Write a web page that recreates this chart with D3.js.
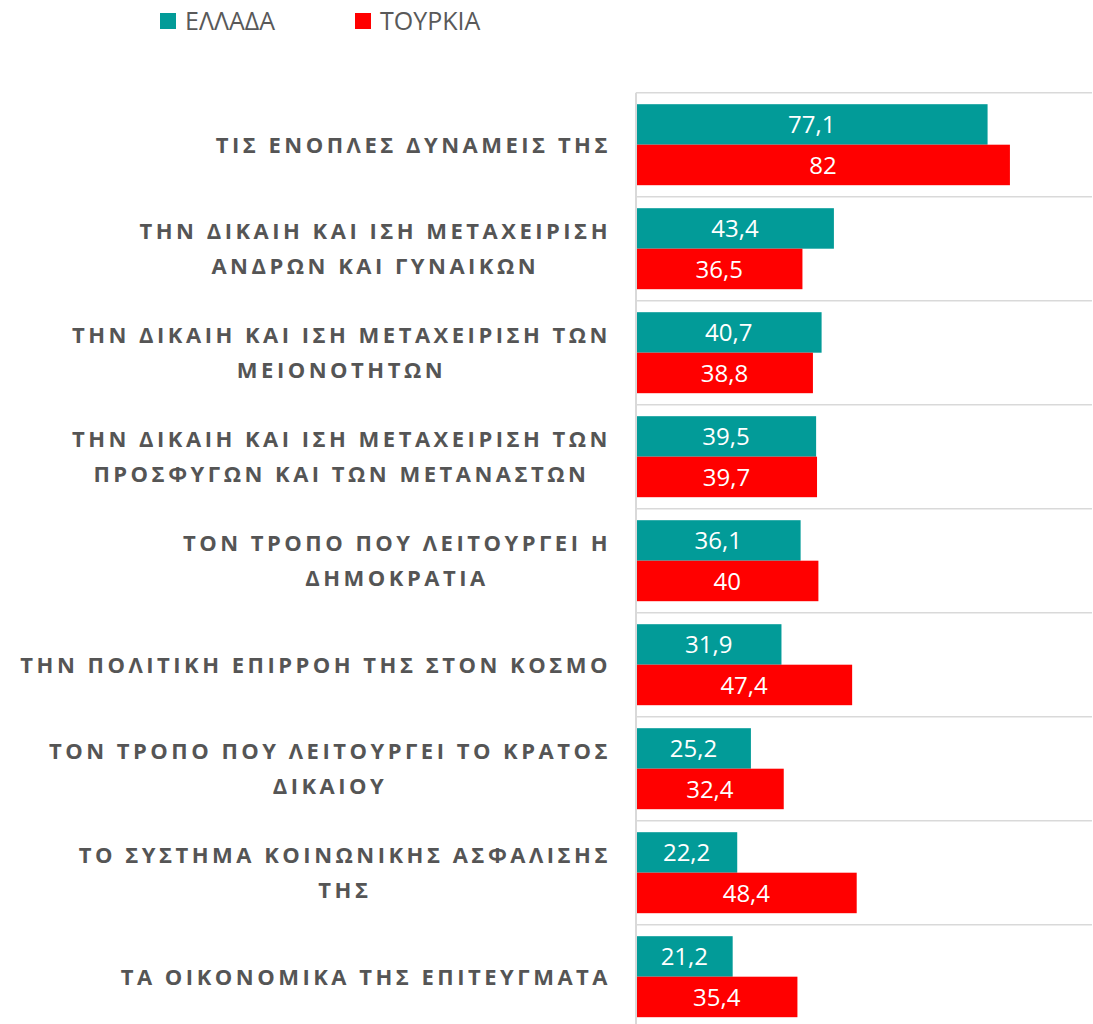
<!DOCTYPE html>
<html>
<head>
<meta charset="utf-8">
<script src="https://cdn.jsdelivr.net/npm/d3@7"></script>
<style>
  body { margin: 0; background: #fff; }
  text { font-family: "Open Sans", sans-serif; }
</style>
</head>
<body>
<div id="chart"></div>
<script>
const categories = [
  "ΤΙΣ ΕΝΟΠΛΕΣ ΔΥΝΑΜΕΙΣ ΤΗΣ",
  "ΤΗΝ ΔΙΚΑΙΗ ΚΑΙ ΙΣΗ ΜΕΤΑΧΕΙΡΙΣΗ\nΑΝΔΡΩΝ ΚΑΙ ΓΥΝΑΙΚΩΝ",
  "ΤΗΝ ΔΙΚΑΙΗ ΚΑΙ ΙΣΗ ΜΕΤΑΧΕΙΡΙΣΗ ΤΩΝ\nΜΕΙΟΝΟΤΗΤΩΝ",
  "ΤΗΝ ΔΙΚΑΙΗ ΚΑΙ ΙΣΗ ΜΕΤΑΧΕΙΡΙΣΗ ΤΩΝ\nΠΡΟΣΦΥΓΩΝ ΚΑΙ ΤΩΝ ΜΕΤΑΝΑΣΤΩΝ",
  "ΤΟΝ ΤΡΟΠΟ ΠΟΥ ΛΕΙΤΟΥΡΓΕΙ Η\nΔΗΜΟΚΡΑΤΙΑ",
  "ΤΗΝ ΠΟΛΙΤΙΚΗ ΕΠΙΡΡΟΗ ΤΗΣ ΣΤΟΝ ΚΟΣΜΟ",
  "ΤΟΝ ΤΡΟΠΟ ΠΟΥ ΛΕΙΤΟΥΡΓΕΙ ΤΟ ΚΡΑΤΟΣ\nΔΙΚΑΙΟΥ",
  "ΤΟ ΣΥΣΤΗΜΑ ΚΟΙΝΩΝΙΚΗΣ ΑΣΦΑΛΙΣΗΣ\nΤΗΣ",
  "ΤΑ ΟΙΚΟΝΟΜΙΚΑ ΤΗΣ ΕΠΙΤΕΥΓΜΑΤΑ"
];
const seriesNames = ["ΕΛΛΑΔΑ", "ΤΟΥΡΚΙΑ"];
const greece = [77.1, 43.4, 40.7, 39.5, 36.1, 31.9, 25.2, 22.2, 21.2];
const turkey = [82, 36.5, 38.8, 39.7, 40, 47.4, 32.4, 48.4, 35.4];
const colors = ["#029b98", "#ff0000"];

const W = 1093, H = 1024;
const plotLeft = 636, plotRight = 1092, plotTop = 92.7;

const svg = d3.select("#chart").append("svg")
  .attr("width", W).attr("height", H);

const x = d3.scaleLinear().domain([0, 100]).range([plotLeft, plotRight]);
const y = d3.scaleBand().domain(d3.range(categories.length))
  .range([plotTop, plotTop + 104 * categories.length]);
const ySub = d3.scaleBand().domain(seriesNames).range([11.5, 92.5]);

const rows = categories.map((c, i) => ({
  label: c,
  values: [
    { name: seriesNames[0], value: greece[i], color: colors[0] },
    { name: seriesNames[1], value: turkey[i], color: colors[1] }
  ]
}));

// gridlines between categories
svg.append("g").selectAll("line")
  .data(d3.range(categories.length + 1))
  .join("line")
  .attr("x1", plotLeft).attr("x2", plotRight)
  .attr("y1", d => plotTop + d * y.step())
  .attr("y2", d => plotTop + d * y.step())
  .attr("stroke", "#d9d9d9")
  .attr("stroke-width", 1.5);

// bars
const groups = svg.append("g").selectAll("g")
  .data(rows)
  .join("g")
  .attr("transform", (d, i) => `translate(0, ${y(i)})`);

groups.selectAll("rect")
  .data(d => d.values)
  .join("rect")
  .attr("x", x(0))
  .attr("y", d => ySub(d.name))
  .attr("width", d => x(d.value) - x(0))
  .attr("height", ySub.bandwidth())
  .attr("fill", d => d.color);

groups.selectAll("text.val")
  .data(d => d.values)
  .join("text")
  .attr("class", "val")
  .attr("x", d => (x(0) + x(d.value)) / 2)
  .attr("y", d => ySub(d.name) + ySub.bandwidth() / 2 + 9)
  .attr("text-anchor", "middle")
  .attr("fill", "#fff")
  .attr("font-size", "24px")
  .text(d => String(d.value).replace(".", ","));

// axis line
svg.append("line")
  .attr("x1", x(0)).attr("x2", x(0))
  .attr("y1", plotTop).attr("y2", H)
  .attr("stroke", "#d9d9d9")
  .attr("stroke-width", 2);

// category labels, lines centred inside a right-aligned block
const labelRight = 611, lineGap = 35;
groups.each(function (d) {
  const lines = d.label.split("\n");
  const g = d3.select(this);
  const t = g.selectAll("text.lab")
    .data(lines)
    .join("text")
    .attr("class", "lab")
    .attr("font-size", "22px")
    .attr("font-weight", "bold")
    .attr("letter-spacing", "3.5px")
    .attr("fill", "#555555")
    .attr("y", (l, j) => y.step() / 2 + 8 + (j - (lines.length - 1) / 2) * lineGap)
    .text(l => l);
  const maxW = d3.max(t.nodes(), n => n.getComputedTextLength());
  t.attr("text-anchor", "middle").attr("x", labelRight - maxW / 2);
});

// legend
const legend = svg.append("g").selectAll("g")
  .data(seriesNames)
  .join("g")
  .attr("transform", (d, i) => `translate(${[160, 355][i]}, 13)`);
legend.append("rect")
  .attr("width", 16).attr("height", 16)
  .attr("fill", (d, i) => colors[i]);
legend.append("text")
  .attr("x", 25).attr("y", 17)
  .attr("font-size", "25px")
  .attr("fill", "#595959")
  .text(d => d);
</script>
</body>
</html>
